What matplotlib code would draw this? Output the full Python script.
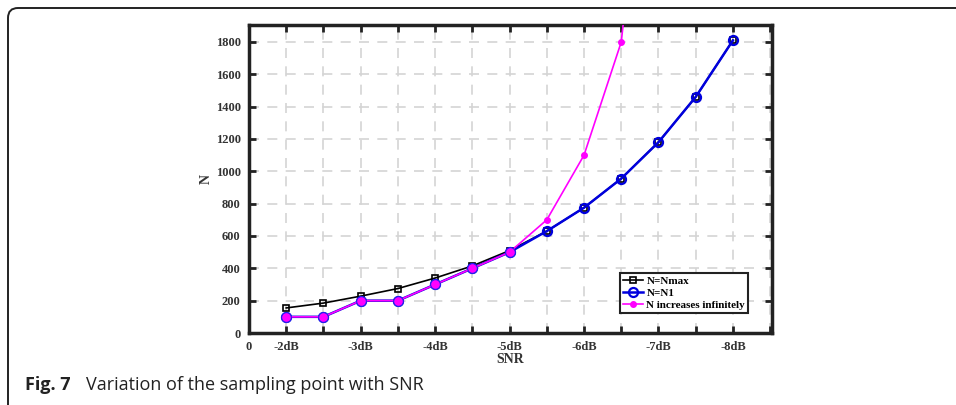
import matplotlib.pyplot as plt
from matplotlib.patches import FancyBboxPatch
from matplotlib.transforms import IdentityTransform
import numpy as np

# x positions 0..14, tick labels only at odd positions
tick_pos = np.arange(0, 15)
tick_labels = ['0', '-2dB', '', '-3dB', '', '-4dB', '', '-5dB', '', '-6dB', '', '-7dB', '', '-8dB', '']

pos = np.arange(1, 14)
n_max = [155, 185, 228, 275, 340, 415, 510, 630, 775, 955, 1180, 1460, 1810]
n_1 = [100, 100, 200, 200, 300, 400, 500, 630, 775, 955, 1180, 1460, 1810]
inf_pos = np.arange(1, 12)
n_inf = [100, 100, 200, 200, 300, 400, 500, 700, 1100, 1800, 3900]

serif = {'family': 'Liberation Serif', 'weight': 'bold'}

fig = plt.figure(figsize=(9.56, 4.05), dpi=100)
ax = fig.add_axes([249/956, 1-333/405, (772-249)/956, (333-25)/405])

ax.plot(pos, n_max, color='black', lw=1.2, marker='s', ms=5, mfc='none', mec='black', mew=1.2,
        label='N=Nmax', zorder=3)
ax.plot(pos, n_1, color='#0000dd', lw=1.8, marker='o', ms=6.5, mfc='none', mec='#0000dd', mew=1.6,
        label='N=N1', zorder=4)
ax.plot(inf_pos, n_inf, color='magenta', lw=1.2, marker='.', ms=8, label='N increases infinitely', zorder=5)
ax.plot(inf_pos, n_inf, ls='none', marker='o', ms=7, mfc='magenta', mec='#2222ee', mew=0.8,
        markevery=list(range(7)), zorder=6)

ax.set_xlim(0, 14.05)
ax.set_ylim(0, 1905)
ax.set_xticks(tick_pos)
ax.set_xticklabels(tick_labels)
ax.set_yticks(np.arange(0, 1801, 200))
ax.grid(True, ls=(0, (6, 5)), color='#d4d4d4', lw=1.2)
ax.set_axisbelow(True)
ax.tick_params(direction='in', length=5, width=2, top=True, right=True, pad=6, colors='#222222')
for lab in ax.get_xticklabels() + ax.get_yticklabels():
    lab.set_fontfamily('Liberation Serif')
    lab.set_fontweight('bold')
    lab.set_fontsize(9)
    lab.set_color('#333333')
for sp in ax.spines.values():
    sp.set_linewidth(2.5)
    sp.set_color('#222222')

ax.set_xlabel('SNR', fontsize=10, labelpad=0, color='#333333', **serif)
ax.set_ylabel('N', fontsize=10, labelpad=2, color='#333333', **serif)

leg = ax.legend(loc='lower right', bbox_to_anchor=(0.955, 0.065), prop={'family': 'Liberation Serif', 'weight': 'bold', 'size': 8},
                fancybox=False, framealpha=1, edgecolor='#222222', borderpad=0.3, labelspacing=0.2,
                handlelength=1.8, handletextpad=0.3, borderaxespad=0)
leg.get_frame().set_linewidth(1.5)

# card frame, in pixels
frame = FancyBboxPatch((8, -60), 1000, 405 - 8 + 60, boxstyle='round,pad=0,rounding_size=10',
                       transform=IdentityTransform(), fill=False, ec='#222222', lw=1.4, clip_on=False)
fig.patches.append(frame)

fig.text(25/956, 1-385/405, 'Fig. 7', fontsize=13, fontweight='bold', family='Open Sans', color='#222222', va='center')
fig.text(86/956, 1-385/405, 'Variation of the sampling point with SNR', fontsize=13, family='Open Sans',
         color='#222222', va='center')

fig.savefig('out.png', dpi=100)
